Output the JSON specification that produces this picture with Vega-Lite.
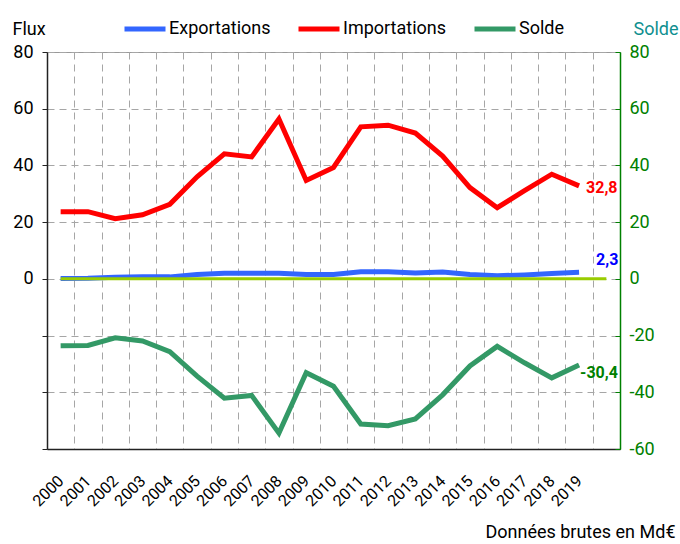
{
  "$schema": "https://vega.github.io/schema/vega-lite/v6.json",
  "width": 573,
  "height": 397,
  "autosize": "none",
  "padding": {"left": 47, "top": 52, "right": 60, "bottom": 95},
  "config": {
    "font": "Roboto",
    "locale": {"number": {"decimal": ",", "thousands": " ", "grouping": [3], "currency": ["", " €"], "minus": "-"}},
    "view": {"stroke": "#999999", "strokeWidth": 1},
    "axis": {"labelFont": "Roboto", "titleFont": "Roboto"}
  },
  "datasets": {
    "flux": [
      {"year": 2000, "series": "Exportations", "value": 0.1},
      {"year": 2001, "series": "Exportations", "value": 0.2},
      {"year": 2002, "series": "Exportations", "value": 0.6},
      {"year": 2003, "series": "Exportations", "value": 0.7},
      {"year": 2004, "series": "Exportations", "value": 0.7},
      {"year": 2005, "series": "Exportations", "value": 1.5},
      {"year": 2006, "series": "Exportations", "value": 2.0},
      {"year": 2007, "series": "Exportations", "value": 2.0},
      {"year": 2008, "series": "Exportations", "value": 2.0},
      {"year": 2009, "series": "Exportations", "value": 1.5},
      {"year": 2010, "series": "Exportations", "value": 1.5},
      {"year": 2011, "series": "Exportations", "value": 2.5},
      {"year": 2012, "series": "Exportations", "value": 2.5},
      {"year": 2013, "series": "Exportations", "value": 2.1},
      {"year": 2014, "series": "Exportations", "value": 2.4},
      {"year": 2015, "series": "Exportations", "value": 1.5},
      {"year": 2016, "series": "Exportations", "value": 1.1},
      {"year": 2017, "series": "Exportations", "value": 1.4},
      {"year": 2018, "series": "Exportations", "value": 1.9},
      {"year": 2019, "series": "Exportations", "value": 2.3},
      {"year": 2000, "series": "Importations", "value": 23.7},
      {"year": 2001, "series": "Importations", "value": 23.7},
      {"year": 2002, "series": "Importations", "value": 21.2},
      {"year": 2003, "series": "Importations", "value": 22.6},
      {"year": 2004, "series": "Importations", "value": 26.3},
      {"year": 2005, "series": "Importations", "value": 36.0},
      {"year": 2006, "series": "Importations", "value": 44.1},
      {"year": 2007, "series": "Importations", "value": 43.0},
      {"year": 2008, "series": "Importations", "value": 56.4},
      {"year": 2009, "series": "Importations", "value": 34.7},
      {"year": 2010, "series": "Importations", "value": 39.3},
      {"year": 2011, "series": "Importations", "value": 53.6},
      {"year": 2012, "series": "Importations", "value": 54.2},
      {"year": 2013, "series": "Importations", "value": 51.4},
      {"year": 2014, "series": "Importations", "value": 43.3},
      {"year": 2015, "series": "Importations", "value": 32.2},
      {"year": 2016, "series": "Importations", "value": 25.1},
      {"year": 2017, "series": "Importations", "value": 31.1},
      {"year": 2018, "series": "Importations", "value": 36.9},
      {"year": 2019, "series": "Importations", "value": 32.8},
      {"year": 2000, "series": "Solde", "value": -23.6},
      {"year": 2001, "series": "Solde", "value": -23.5},
      {"year": 2002, "series": "Solde", "value": -20.8},
      {"year": 2003, "series": "Solde", "value": -21.9},
      {"year": 2004, "series": "Solde", "value": -25.7},
      {"year": 2005, "series": "Solde", "value": -34.3},
      {"year": 2006, "series": "Solde", "value": -42.1},
      {"year": 2007, "series": "Solde", "value": -41.1},
      {"year": 2008, "series": "Solde", "value": -54.4},
      {"year": 2009, "series": "Solde", "value": -33.1},
      {"year": 2010, "series": "Solde", "value": -37.9},
      {"year": 2011, "series": "Solde", "value": -51.2},
      {"year": 2012, "series": "Solde", "value": -51.8},
      {"year": 2013, "series": "Solde", "value": -49.4},
      {"year": 2014, "series": "Solde", "value": -40.9},
      {"year": 2015, "series": "Solde", "value": -30.7},
      {"year": 2016, "series": "Solde", "value": -23.8},
      {"year": 2017, "series": "Solde", "value": -29.6},
      {"year": 2018, "series": "Solde", "value": -34.9},
      {"year": 2019, "series": "Solde", "value": -30.4}
    ],
    "zero": [
      {"year": 2000, "value": 0},
      {"year": 2020, "value": 0}
    ]
  },
  "layer": [
    {
      "data": {"name": "flux"},
      "mark": {"type": "line", "strokeWidth": 5, "strokeJoin": "miter", "strokeCap": "butt"},
      "encoding": {
        "x": {
          "field": "year", "type": "quantitative",
          "scale": {"domain": [1999.5, 2020.5], "nice": false, "zero": false},
          "axis": {
            "orient": "bottom",
            "values": [2000, 2001, 2002, 2003, 2004, 2005, 2006, 2007, 2008, 2009, 2010, 2011, 2012, 2013, 2014, 2015, 2016, 2017, 2018, 2019],
            "format": "d",
            "labelAngle": -45,
            "labelAlign": "right",
            "labelBaseline": "middle",
            "labelPadding": 29,
            "labelFontSize": 16,
            "labelColor": "#000000",
            "labelOverlap": false,
            "ticks": false,
            "domain": false,
            "grid": false,
            "title": "Données brutes en Md€",
            "titleFontSize": 18,
            "titleFontWeight": "normal",
            "titleColor": "#000000",
            "titleAlign": "right",
            "titleAnchor": null,
            "titleBaseline": "alphabetic",
            "titleX": 628,
            "titleY": 88
          }
        },
        "y": {
          "field": "value", "type": "quantitative",
          "scale": {"domain": [-60, 80], "nice": false},
          "axis": {
            "orient": "right",
            "values": [-60, -40, -20, 0, 20, 40, 60, 80],
            "grid": false,
            "domainColor": "#008000",
            "domainWidth": 1.5,
            "tickColor": "#008000",
            "tickSize": -5,
            "labelColor": "#008000",
            "labelFontSize": 18,
            "labelPadding": 14,
            "title": "Solde",
            "titleAngle": 0,
            "titleColor": "#0f8f8f",
            "titleFontSize": 18,
            "titleFontWeight": "normal",
            "titleAlign": "left",
            "titleBaseline": "alphabetic",
            "titleAnchor": null,
            "titleX": 13,
            "titleY": -18
          }
        },
        "color": {
          "field": "series", "type": "nominal",
          "scale": {"domain": ["Exportations", "Importations", "Solde"], "range": ["#3366ff", "#ff0000", "#339966"]},
          "legend": {
            "orient": "none",
            "legendX": 75,
            "legendY": -46,
            "direction": "horizontal",
            "title": null,
            "symbolType": "stroke",
            "symbolSize": 1681,
            "symbolStrokeWidth": 5,
            "labelFontSize": 18,
            "labelColor": "#000000",
            "labelOffset": 1,
            "columnPadding": 17
          }
        }
      }
    },
    {
      "data": {"name": "zero"},
      "mark": {"type": "line", "strokeWidth": 3, "color": "#99cc00"},
      "encoding": {
        "x": {
          "field": "year", "type": "quantitative",
          "axis": {
            "orient": "bottom",
            "values": [2000.5, 2001.5, 2002.5, 2003.5, 2004.5, 2005.5, 2006.5, 2007.5, 2008.5, 2009.5, 2010.5, 2011.5, 2012.5, 2013.5, 2014.5, 2015.5, 2016.5, 2017.5, 2018.5, 2019.5],
            "labels": false,
            "ticks": false,
            "domain": true,
            "domainColor": "#222222",
            "domainWidth": 1.5,
            "grid": true,
            "gridColor": "#a6a6a6",
            "gridDash": [7, 5],
            "gridWidth": 1,
            "title": null
          }
        },
        "y": {
          "field": "value", "type": "quantitative",
          "axis": {
            "orient": "left",
            "values": [-60, -40, -20, 0, 20, 40, 60, 80],
            "labelExpr": "datum.value >= 0 ? datum.label : ''",
            "grid": true,
            "gridColor": "#a6a6a6",
            "gridDash": [7, 5],
            "gridWidth": 1,
            "domainColor": "#222222",
            "domainWidth": 1.5,
            "tickColor": "#222222",
            "tickSize": 5,
            "labelColor": "#000000",
            "labelFontSize": 18,
            "labelPadding": 9,
            "title": "Flux",
            "titleAngle": 0,
            "titleColor": "#000000",
            "titleFontSize": 18,
            "titleFontWeight": "normal",
            "titleAlign": "left",
            "titleBaseline": "alphabetic",
            "titleAnchor": null,
            "titleX": -35,
            "titleY": -18
          }
        }
      }
    },
    {
      "data": {"name": "flux"},
      "transform": [{"filter": "datum.year == 2019 && datum.series == 'Importations'"}],
      "mark": {"type": "text", "align": "left", "baseline": "middle", "dx": 7, "dy": 2, "fontSize": 16, "fontWeight": "bold", "color": "#ff0000"},
      "encoding": {
        "x": {"field": "year", "type": "quantitative", "axis": null},
        "y": {"field": "value", "type": "quantitative", "axis": null},
        "text": {"field": "value", "type": "quantitative", "format": ".1f"}
      }
    },
    {
      "data": {"name": "flux"},
      "transform": [{"filter": "datum.year == 2019 && datum.series == 'Exportations'"}],
      "mark": {"type": "text", "align": "left", "baseline": "middle", "dx": 17, "dy": -12, "fontSize": 16, "fontWeight": "bold", "color": "#0000ff"},
      "encoding": {
        "x": {"field": "year", "type": "quantitative", "axis": null},
        "y": {"field": "value", "type": "quantitative", "axis": null},
        "text": {"field": "value", "type": "quantitative", "format": ".1f"}
      }
    },
    {
      "data": {"name": "flux"},
      "transform": [{"filter": "datum.year == 2019 && datum.series == 'Solde'"}],
      "mark": {"type": "text", "align": "left", "baseline": "middle", "dx": 1, "dy": 8, "fontSize": 16, "fontWeight": "bold", "color": "#008000"},
      "encoding": {
        "x": {"field": "year", "type": "quantitative", "axis": null},
        "y": {"field": "value", "type": "quantitative", "axis": null},
        "text": {"field": "value", "type": "quantitative", "format": ".1f"}
      }
    }
  ],
  "resolve": {"axis": {"x": "independent", "y": "independent"}}
}
